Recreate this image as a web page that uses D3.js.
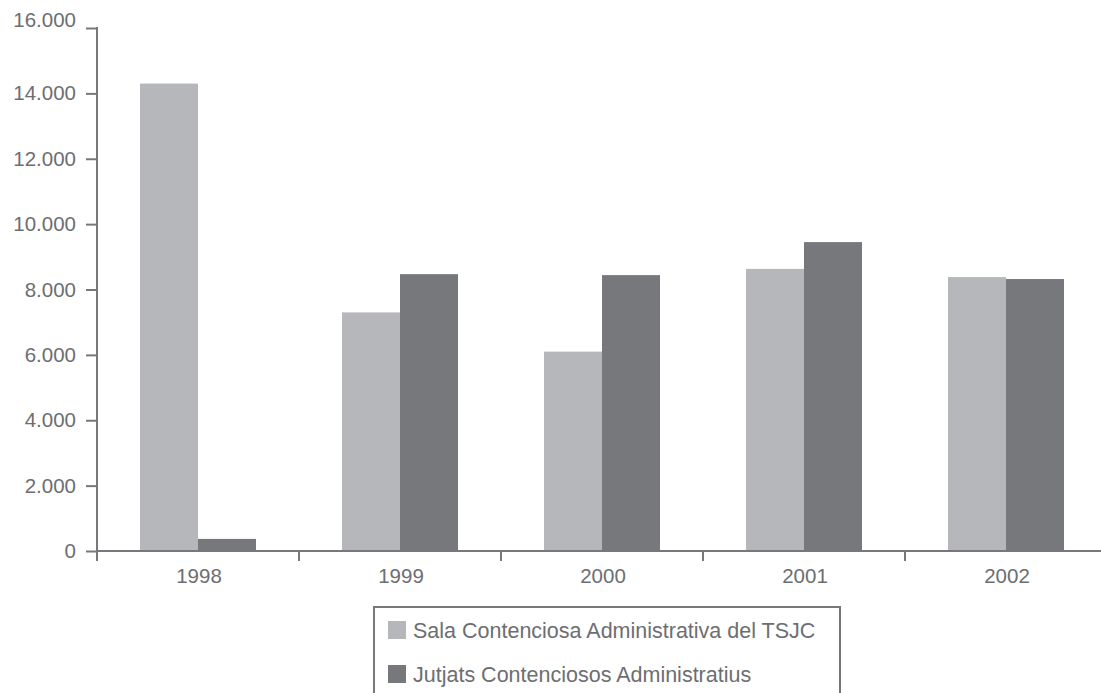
<!DOCTYPE html>
<html>
<head>
<meta charset="utf-8">
<script src="https://cdn.jsdelivr.net/npm/d3@7"></script>
<style>
  body { margin: 0; background: #fff; }
  svg { display: block; font-family: "Liberation Sans", Arial, sans-serif; }
</style>
</head>
<body>
<svg id="chart" width="1101" height="693"></svg>
<script>
// data
var years = ["1998", "1999", "2000", "2001", "2002"];
var sala = [14300, 7300, 6100, 8630, 8380];
var jutjats = [370, 8470, 8440, 9450, 8320];
var seriesNames = ["Sala Contenciosa Administrativa del TSJC", "Jutjats Contenciosos Administratius"];
var yTicks = [0, 2000, 4000, 6000, 8000, 10000, 12000, 14000, 16000];

var colors = ["#b6b7ba", "#77787c"];
var axisColor = "#77787b";
var textColor = "#6d6e71";

var svg = d3.select("#chart");

var xScale = d3.scaleBand()
    .domain(years)
    .range([97, 1107]);

var yScale = d3.scaleLinear()
    .domain([0, 16000])
    .range([551, 28]);

var fmt = function(d) { return d3.format(",")(d).replace(/,/g, "."); };

// bars, two per year, centred in the band
var barW = 58;
var rows = years.map(function(y, i) { return {year: y, vals: [sala[i], jutjats[i]]}; });

var groups = svg.append("g").selectAll("g")
    .data(rows)
    .enter().append("g")
    .attr("transform", function(d) {
        return "translate(" + (xScale(d.year) + xScale.bandwidth() / 2 - barW) + ",0)";
    });

groups.selectAll("rect")
    .data(function(d) { return d.vals; })
    .enter().append("rect")
    .attr("x", function(d, i) { return i * barW; })
    .attr("y", function(d) { return yScale(d); })
    .attr("width", barW)
    .attr("height", function(d) { return yScale(0) - yScale(d); })
    .style("fill", function(d, i) { return colors[i]; });

// y axis
var yAxis = d3.axisLeft(yScale)
    .tickValues(yTicks)
    .tickSize(11)
    .tickPadding(10)
    .tickFormat(fmt);

var gy = svg.append("g")
    .attr("transform", "translate(97,0)")
    .call(yAxis);
gy.select(".domain").remove();
gy.append("line")
    .attr("x1", 0).attr("x2", 0)
    .attr("y1", yScale(16000) - 1).attr("y2", 561);
gy.selectAll("line").style("stroke", axisColor).style("stroke-width", 2);
gy.selectAll("text")
    .style("font-size", "20.5px")
    .style("fill", textColor);
// top label sits a little above its tick in the original
gy.selectAll(".tick").filter(function(d) { return d === 16000; })
    .select("text").attr("dy", "-0.05em");

// x axis: ticks on band edges, labels in band centres
var gx = svg.append("g");
gx.append("line")
    .attr("x1", 97).attr("x2", 1101)
    .attr("y1", yScale(0)).attr("y2", yScale(0))
    .style("stroke", axisColor).style("stroke-width", 2);
gx.selectAll(".edge")
    .data(years)
    .enter().append("line")
    .attr("class", "edge")
    .attr("x1", function(d) { return xScale(d); })
    .attr("x2", function(d) { return xScale(d); })
    .attr("y1", yScale(0))
    .attr("y2", yScale(0) + 10)
    .style("stroke", axisColor).style("stroke-width", 2);
gx.selectAll("text")
    .data(years)
    .enter().append("text")
    .attr("x", function(d) { return xScale(d) + xScale.bandwidth() / 2 + 1; })
    .attr("y", 583)
    .attr("text-anchor", "middle")
    .style("font-size", "20.5px")
    .style("fill", textColor)
    .text(function(d) { return d; });

// legend box, open at the bottom edge of the picture
var legend = svg.append("g");
legend.append("path")
    .attr("d", "M374,694 V607 H840 V694")
    .style("fill", "none")
    .style("stroke", axisColor)
    .style("stroke-width", 2);

var items = legend.selectAll("g")
    .data(seriesNames)
    .enter().append("g")
    .attr("transform", function(d, i) { return "translate(388," + (621 + i * 44) + ")"; });
items.append("rect")
    .attr("width", 18).attr("height", 18)
    .style("fill", function(d, i) { return colors[i]; });
items.append("text")
    .attr("x", 25)
    .attr("y", 16.5)
    .style("font-size", "21.5px")
    .style("fill", textColor)
    .text(function(d) { return d; });
</script>
</body>
</html>
